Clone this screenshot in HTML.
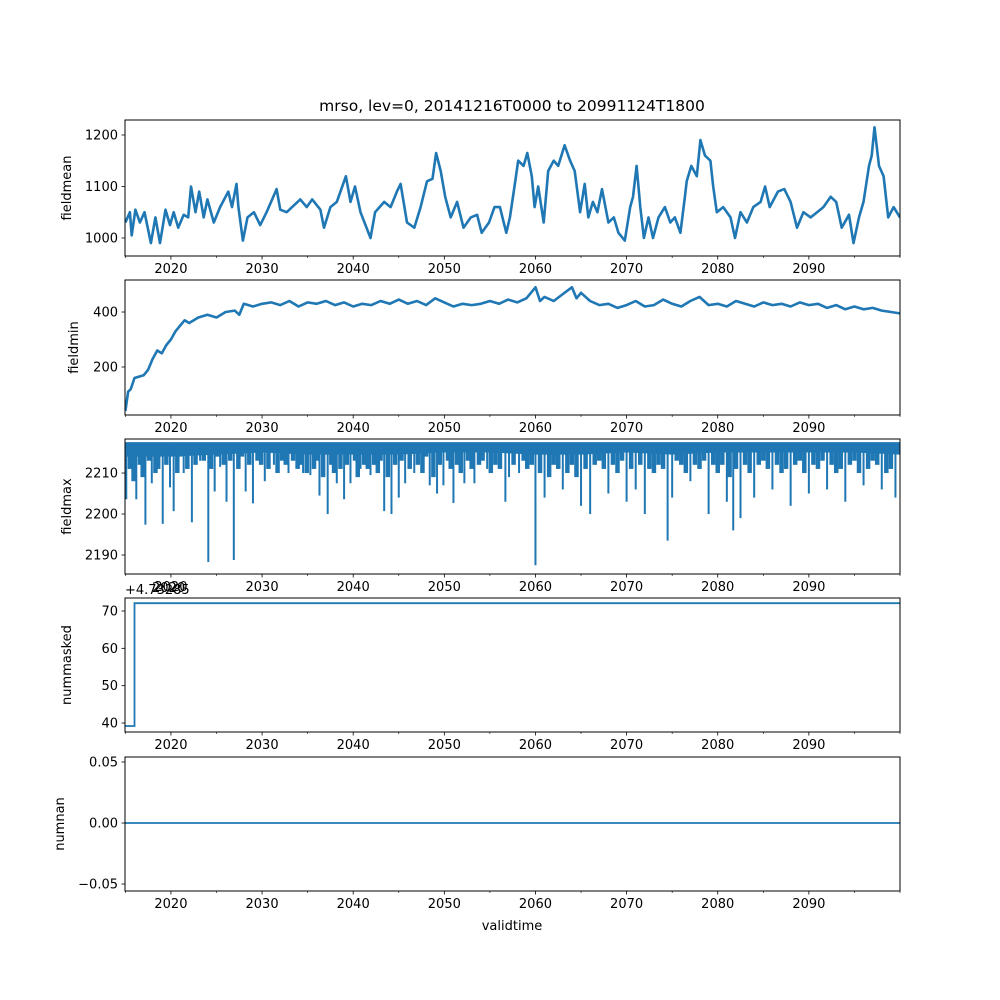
<!DOCTYPE html>
<html><head><meta charset="utf-8"><style>
body{margin:0;background:#fff;}
svg{display:block;font-family:"DejaVu Sans","Liberation Sans",sans-serif;}
</style></head><body>
<svg id="chart" width="1000" height="1000" viewBox="0 0 1000 1000">
<text x="512" y="111" font-size="15.5" text-anchor="middle">mrso, lev=0, 20141216T0000 to 20991124T1800</text>
<text x="512" y="930" font-size="13" text-anchor="middle">validtime</text>
</svg>
<script>
// ---- data ----
const majorYears = [2020,2030,2040,2050,2060,2070,2080,2090];
const minorYears = [2015,2025,2035,2045,2055,2065,2075,2085,2095,2100];

const meanYears = [2015,2015.5,2015.7,2016.1,2016.6,2017.1,2017.8,2018.3,2018.8,2019.4,2019.9,2020.3,2020.8,2021.4,2021.9,2022.2,2022.7,2023.1,2023.6,2024.0,2024.7,2025.4,2026.3,2026.7,2027.2,2027.4,2027.9,2028.4,2029.1,2029.8,2030.5,2031.6,2032.0,2032.7,2033.3,2034.2,2034.9,2035.5,2036.4,2036.8,2037.5,2038.2,2039.2,2039.7,2040.2,2040.8,2041.9,2042.4,2043.4,2044.1,2044.8,2045.2,2045.9,2046.7,2047.4,2048.1,2048.7,2049.1,2049.6,2050.1,2050.7,2051.4,2052.1,2052.9,2053.6,2054.1,2054.9,2055.5,2056.1,2056.8,2057.2,2057.7,2058.1,2058.7,2059.1,2059.6,2059.9,2060.3,2060.9,2061.4,2062.0,2062.5,2063.2,2063.8,2064.3,2064.9,2065.4,2065.8,2066.3,2066.8,2067.3,2068.0,2068.6,2069.1,2069.8,2070.4,2070.7,2071.1,2071.5,2071.9,2072.4,2072.9,2073.5,2074.2,2074.8,2075.3,2075.9,2076.4,2076.6,2077.1,2077.7,2078.1,2078.6,2079.2,2079.5,2079.9,2080.6,2081.4,2081.9,2082.5,2083.2,2083.9,2084.7,2085.2,2085.7,2086.6,2087.3,2088.0,2088.7,2089.4,2090.2,2090.9,2091.6,2092.4,2093.0,2093.6,2094.4,2094.9,2095.5,2096.0,2096.6,2096.9,2097.2,2097.7,2098.2,2098.7,2099.3,2100];
const meanValues = [1030,1050,1005,1055,1030,1050,990,1040,990,1055,1025,1050,1020,1045,1040,1100,1050,1090,1040,1075,1030,1060,1090,1060,1105,1060,995,1040,1050,1025,1050,1095,1055,1050,1060,1075,1060,1075,1055,1020,1060,1070,1120,1070,1100,1050,1000,1050,1070,1060,1090,1105,1030,1020,1060,1110,1115,1165,1130,1080,1040,1070,1020,1040,1045,1010,1030,1060,1060,1010,1040,1100,1150,1140,1165,1120,1060,1100,1030,1130,1150,1140,1180,1150,1130,1050,1105,1040,1070,1050,1095,1030,1040,1010,995,1060,1080,1140,1060,1000,1040,1000,1040,1060,1030,1040,1010,1080,1110,1140,1120,1190,1160,1150,1100,1050,1060,1040,1000,1050,1030,1060,1070,1100,1060,1090,1095,1070,1020,1050,1040,1050,1060,1080,1070,1020,1045,990,1040,1070,1140,1160,1215,1140,1120,1040,1060,1040];

const minYears = [2015,2015.3,2015.6,2016,2017,2017.5,2018,2018.5,2019,2019.5,2020,2020.5,2021,2021.5,2022,2023,2024,2025,2026,2027,2027.5,2028,2029,2030,2031,2032,2033,2034,2035,2036,2037,2038,2039,2040,2041,2042,2043,2044,2045,2046,2047,2048,2049,2050,2051,2052,2053,2054,2055,2056,2057,2058,2059,2060,2060.5,2061,2062,2063,2064,2064.5,2065,2066,2067,2068,2069,2070,2071,2072,2073,2074,2075,2076,2077,2078,2079,2080,2081,2082,2083,2084,2085,2086,2087,2088,2089,2090,2091,2092,2093,2094,2095,2096,2097,2098,2099,2100];
const minValues = [40,110,120,160,170,190,230,260,250,280,300,330,350,370,360,380,390,380,400,405,390,430,420,430,435,425,440,420,435,430,440,425,435,420,430,425,440,430,445,430,440,425,450,435,420,430,425,430,440,430,445,435,450,490,440,455,440,465,490,450,470,440,425,430,415,425,440,420,425,445,430,420,440,455,425,430,420,440,430,420,435,425,430,420,435,425,430,415,425,410,420,410,415,405,400,395];

const maxDipYears = [2015.1,2016.2,2017.2,2017.9,2019.1,2019.9,2020.3,2021.4,2022.3,2023.2,2024.1,2024.8,2025.4,2026.1,2026.9,2028.2,2029.0,2030.3,2031.3,2032.9,2034.5,2035.3,2036.3,2037.2,2038.2,2039.0,2039.7,2040.8,2041.9,2043.4,2044.2,2045.0,2045.7,2046.7,2048.4,2049.2,2049.9,2051.0,2052.2,2053.3,2054.7,2056.7,2057.1,2058.2,2060.0,2061.0,2063.0,2065.0,2066.0,2068.0,2070.0,2071.0,2072.0,2074.5,2075.0,2077.0,2079.0,2081.0,2081.7,2082.5,2084.0,2086.0,2088.0,2090.0,2092.0,2094.0,2096.0,2098.0,2099.5];
const maxDipValues = [2203.6,2203.6,2197.4,2207.5,2197.6,2206.5,2200.7,2210,2198,2213,2188.3,2205.5,2211.5,2203,2188.8,2205.5,2202.6,2208,2212,2210,2210,2209.5,2204.5,2200,2207.5,2203.6,2207.5,2211,2209.5,2200.7,2200,2204,2207.5,2210,2207,2205,2207,2202.7,2207.5,2207.5,2211,2203,2209,2210,2187.5,2204,2206,2202,2200,2205,2203,2206,2200,2193.5,2204,2208,2200,2203,2196,2199,2204,2206,2202,2205,2206,2203,2207,2206,2204];
const maxMidYears = [2015.5,2015.9,2016.6,2016.9,2017.6,2018.3,2018.6,2019.5,2020.7,2021.0,2021.8,2022.7,2023.6,2024.4,2025.1,2025.8,2026.5,2027.4,2027.8,2028.6,2029.5,2029.9,2030.7,2031.7,2032.2,2032.6,2033.4,2033.9,2034.2,2034.9,2035.7,2036.0,2036.7,2037.6,2037.9,2038.6,2039.3,2040.2,2040.5,2041.2,2041.6,2042.3,2042.7,2043.0,2043.8,2044.6,2045.3,2046.2,2047.1,2047.6,2048.0,2048.8,2049.5,2050.4,2050.7,2051.4,2051.8,2052.6,2053.0,2053.8,2054.2,2055.1,2055.6,2056.1,2057.6,2058.7,2059.1,2059.6,2060.5,2061.5,2062.0,2062.5,2063.5,2064.0,2064.5,2065.5,2066.5,2067.0,2067.5,2068.5,2069.0,2069.5,2070.5,2071.5,2072.5,2073.0,2073.5,2074.0,2075.5,2076.0,2076.5,2077.5,2078.0,2078.5,2079.5,2080.0,2080.5,2081.3,2082.0,2083.0,2083.5,2084.5,2085.0,2085.5,2086.5,2087.0,2087.5,2088.5,2089.0,2089.5,2090.5,2091.0,2091.5,2092.5,2093.0,2093.5,2094.5,2095.0,2095.5,2096.5,2097.0,2097.5,2098.5,2099.0];
const maxMidValues = [2211,2208,2212,2209,2213,2210,2211,2212,2210,2214,2211,2212,2213,2211,2214,2212,2213,2211,2214,2212,2213,2212,2211,2210,2213,2212,2213,2211,2212,2210,2211,2213,2209,2212,2210,2211,2212,2213,2209,2212,2211,2212,2210,2213,2209,2212,2213,2211,2212,2210,2214,2209,2212,2213,2211,2212,2210,2213,2211,2212,2213,2210,2212,2211,2212,2213,2211,2212,2210,2209,2212,2211,2210,2212,2209,2211,2212,2213,2211,2212,2210,2213,2211,2212,2211,2210,2212,2211,2213,2212,2210,2212,2211,2213,2212,2210,2212,2209,2211,2212,2210,2212,2213,2211,2212,2210,2211,2212,2213,2210,2212,2211,2213,2212,2210,2211,2212,2213,2210,2211,2213,2212,2210,2211];
const maxFloorYears = [2015,2020,2025,2030,2035,2040,2045,2050,2055,2060,2065,2070,2075,2080,2085,2090,2095,2100];
const maxFloorValues = [2214,2214,2214.5,2215,2214.5,2214.5,2214.5,2215,2215,2214.5,2214.5,2215,2214.5,2215,2215,2215,2215,2214.5];
const maxTop = 2217.3;

const maskedYears = [2014.96,2016.0,2016.0,2100];
const maskedValues = [39.2,39.2,72.1,72.1];

const nanYears = [2014.96,2100];
const nanValues = [0,0];

// ---- layout ----
const svg = document.getElementById('chart');
const NS = 'http://www.w3.org/2000/svg';
const L = 125, R = 900, X0 = 2014.96, X1 = 2100;
const C = '#1f77b4';
function xs(y){ return L + (y - X0) / (X1 - X0) * (R - L); }
function mk(tag, attrs, parent){ const e = document.createElementNS(NS, tag); for (const k in attrs) e.setAttribute(k, attrs[k]); (parent||svg).appendChild(e); return e; }

const panels = [
 {name:'fieldmean', top:120, bot:256, vmin:965, vmax:1229.1, ticks:[1000,1100,1200], labels:['1000','1100','1200']},
 {name:'fieldmin', top:280, bot:415, vmin:25.5, vmax:516.4, ticks:[200,400], labels:['200','400']},
 {name:'fieldmax', top:439, bot:574, vmin:2185.37, vmax:2218.3, ticks:[2190,2200,2210], labels:['2190','2200','2210']},
 {name:'nummasked', top:598, bot:732, vmin:37.59, vmax:73.48, ticks:[40,50,60,70], labels:['40','50','60','70']},
 {name:'numnan', top:757, bot:891, vmin:-0.0557, vmax:0.0541, ticks:[-0.05,0,0.05], labels:['\u22120.05','0.00','0.05']}
];

panels.forEach((p, i) => {
  const ys = v => p.bot - (v - p.vmin) / (p.vmax - p.vmin) * (p.bot - p.top);
  const g = mk('g', {});
  
  
  const clipId = 'clip' + i;
  const cp = mk('clipPath', {id: clipId}, g);
  mk('rect', {x:L, y:p.top, width:R-L, height:p.bot-p.top}, cp);
  const plot = mk('g', {'clip-path':'url(#'+clipId+')'}, g);
  
  

  if (i === 0 || i === 1) {
    const yrs = i === 0 ? meanYears : minYears;
    const vals = i === 0 ? meanValues : minValues;
    const pts = yrs.map((y, k) => xs(y).toFixed(1) + ',' + ys(vals[k]).toFixed(1)).join(' ');
    const pl = mk('polyline', {points:pts, fill:'none', stroke:C, 'stroke-width': 2.6, 'stroke-linejoin':'round'}, plot);
    
    
  } else if (i === 2) {
    let d = 'M' + xs(maxFloorYears[0]) + ',' + ys(maxTop);
    maxFloorYears.forEach((y, k) => { d += ' L' + xs(y).toFixed(1) + ',' + ys(maxFloorValues[k]).toFixed(1); });
    d += ' L' + xs(maxFloorYears[maxFloorYears.length-1]) + ',' + ys(maxTop) + ' Z';
    const band = mk('path', {d:d, fill:C}, plot);
    
    
    maxMidYears.forEach((y, k) => {
      const ln = mk('line', {x1:xs(y), x2:xs(y), y1:ys(maxTop), y2:ys(maxMidValues[k]), stroke:C, 'stroke-width':4.5}, plot);
      
      
    });
    maxDipYears.forEach((y, k) => {
      const ln = mk('line', {x1:xs(y), x2:xs(y), y1:ys(maxTop), y2:ys(maxDipValues[k]), stroke:C, 'stroke-width':2}, plot);
      
      
    });
    const tl = mk('line', {x1:L, x2:R, y1:ys(maxTop), y2:ys(maxTop), stroke:C, 'stroke-width':2}, plot);
    
    
  } else {
    const yrs = i === 3 ? maskedYears : nanYears;
    const vals = i === 3 ? maskedValues : nanValues;
    const pts = yrs.map((y, k) => xs(y).toFixed(1) + ',' + ys(vals[k]).toFixed(1)).join(' ');
    const pl = mk('polyline', {points:pts, fill:'none', stroke:C, 'stroke-width':1.8}, plot);
    
    
  }

  const fr = mk('rect', {x:L, y:p.top, width:R-L, height:p.bot-p.top, fill:'none', stroke:'#000', 'stroke-width':1}, g);
  
  

  majorYears.forEach(y => {
    mk('line', {x1:xs(y), x2:xs(y), y1:p.bot, y2:p.bot+3.5, stroke:'#000', 'stroke-width':0.8}, g);
    const t = mk('text', {x:xs(y), y:p.bot+17, 'font-size':13, 'text-anchor':'middle'}, g);
    t.textContent = y;
    
    
  });
  minorYears.forEach(y => {
    mk('line', {x1:xs(y), x2:xs(y), y1:p.bot, y2:p.bot+2, stroke:'#000', 'stroke-width':0.6}, g);
  });
  p.ticks.forEach((v, k) => {
    mk('line', {x1:L-3.5, x2:L, y1:ys(v), y2:ys(v), stroke:'#000', 'stroke-width':0.8}, g);
    const t = mk('text', {x:L-7, y:ys(v)+4.5, 'font-size':13, 'text-anchor':'end'}, g);
    t.textContent = p.labels[k];
    
    
  });
  const yl = mk('text', {x:0, y:0, 'font-size':13, 'text-anchor':'middle', transform:'translate(' + (i===4?64:(i===0?71:(i===1?78:71))) + ',' + ((p.top+p.bot)/2) + ') rotate(-90)'}, g);
  yl.textContent = p.name;
  
  
});

const off = mk('text', {x:125, y:594, 'font-size':13}, svg);
off.textContent = '+4.73285';


const off2 = mk('text', {x:152, y:592, 'font-size':13}, svg);
off2.textContent = '2020';


</script>
</body></html>
